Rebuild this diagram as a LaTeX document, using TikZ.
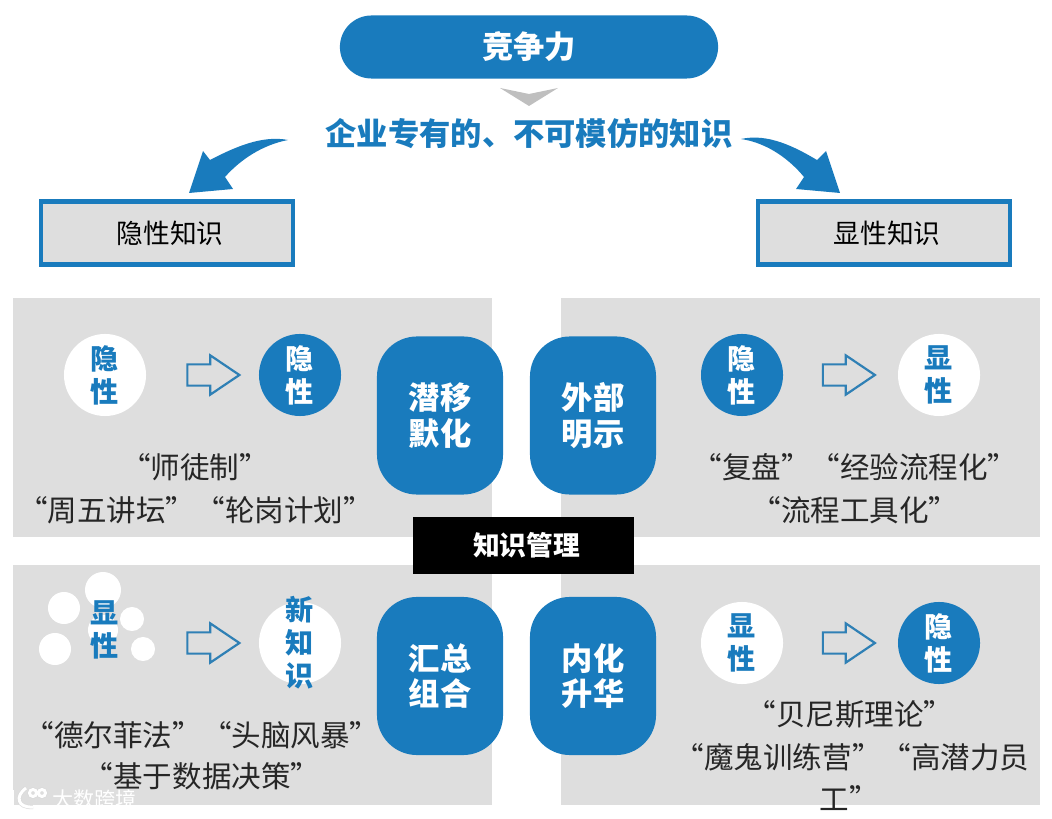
\documentclass[tikz,border=0pt]{standalone}
\usepackage{fontspec}
\setmainfont{Noto Sans CJK SC}
\usetikzlibrary{shapes.arrows}
\definecolor{kblue}{HTML}{197BBD}
\definecolor{kline}{HTML}{2F80B5}
\definecolor{kgrey}{HTML}{DEDEDE}
\begin{document}
\begin{tikzpicture}[x=0.01cm,y=-0.01cm]
                \tikzstyle{panel}=[fill=kgrey,draw=none,minimum width=4.79cm,minimum height=2.39cm,inner sep=0pt]
                \tikzstyle{bigbox}=[fill=kblue,text=white,rounded corners=0.4cm,minimum width=1.26cm,minimum height=1.58cm,inner sep=0pt,align=center,font=\fontsize{8.9}{10.2}\selectfont\bfseries]
                \tikzstyle{kind}=[fill=kgrey,draw=kblue,line width=0.045cm,minimum width=2.52cm,minimum height=0.63cm,inner sep=0pt,font=\fontsize{7.6}{9}\selectfont]
                \tikzstyle{blob}=[circle,minimum size=0.82cm,inner sep=0pt,align=center,font=\fontsize{8}{9.4}\selectfont\bfseries]
                \tikzstyle{whiteblob}=[blob,fill=white,text=kblue]
                \tikzstyle{blueblob}=[blob,fill=kblue,text=white]
                \tikzstyle{puff}=[circle,fill=white,inner sep=0pt]
                \tikzstyle{hollow}=[single arrow,draw=kline,fill=kgrey,line width=0.022cm,text height=0.19cm,text depth=0pt,text width=0pt,minimum height=0.52cm,single arrow head extend=0.09cm,single arrow tip angle=68,inner sep=0pt]
                \tikzstyle{say}=[font=\fontsize{8.4}{9.5}\selectfont,text=black!85,inner sep=0pt]
                \tikzstyle{logo}=[draw=black!15,double=white,double distance=0.03cm,line width=0.006cm]
                \path[use as bounding box] (0,0) rectangle (1052,819);

                % top of the picture
                \node[fill=kblue,text=white,rounded corners=0.315cm,minimum width=3.78cm,minimum height=0.63cm,inner sep=0pt,font=\fontsize{8.9}{10}\selectfont\bfseries] (V-top) at (529,47){竞争力};
                \node[text=kblue,inner sep=0pt,font=\fontsize{8.9}{10}\selectfont\bfseries] (V-sub) at (529,134){企业专有的、不可模仿的知识};
                \fill[black!25] (500,88) -- (529,94) -- (558,88) -- (529,106) -- cycle;
                \node[kind] (V-tacit) at (167,233){\hspace{0.06cm}隐性知识};
                \node[kind] (V-plain) at (884,233){\hspace{0.06cm}显性知识};
                \fill[kblue] (288,140) .. controls (262,135) and (235,147) .. (210,160) -- (203,151) -- (189,193) -- (233,189) -- (225,177) .. controls (240,160) and (262,145) .. (288,140) -- cycle;
                \fill[kblue] (741,139) .. controls (768,133) and (795,147) .. (817,160) -- (826,151) -- (840,193) -- (796,189) -- (804,177) .. controls (790,160) and (768,143) .. (741,139) -- cycle;

                % four panels
                \foreach \name/\x/\y in {a/252.5/417.5, b/800.5/417.5, c/252.5/685, d/800.5/685}
                    \node[panel] (P-\name) at (\x,\y){};
                \foreach \name/\x/\y/\label in {a/440/415.5/潜移\\默化, b/593/415.5/外部\\明示, c/440/676/汇总\\组合, d/593/676/内化\\升华}
                    \node[bigbox] (B-\name) at (\x,\y){\label};
                \node[fill=black,text=white,minimum width=2.21cm,minimum height=0.57cm,inner sep=0pt,font=\fontsize{7.6}{9}\selectfont\bfseries] (V-mid) at (523.5,545.5){\hspace{0.06cm}知识管理};

                % circles and their arrows
                \node[whiteblob] (C-a1) at (105,375){隐\\性};
                \node[blueblob] (C-a2) at (300,375){隐\\性};
                \node[blueblob] (C-b1) at (742,375){隐\\性};
                \node[whiteblob] (C-b2) at (939,375){显\\性};
                \foreach \x/\y/\size in {103/590/0.36cm, 64/608/0.32cm, 55/649/0.32cm, 132/619/0.24cm, 143/649/0.24cm, 103/630/0.3cm}
                    \node[puff,minimum size=\size] at (\x,\y){};
                \node[blob,text=kblue] (C-c1) at (105,630){显\\性};
                \node[puff,minimum size=0.82cm] (C-c0) at (300,643){};
                \node[blob,text=kblue] (C-c2) at (300,643){新\\知\\识};
                \node[whiteblob] (C-d1) at (742,643){显\\性};
                \node[blueblob] (C-d2) at (939,643){隐\\性};
                \foreach \x/\y in {205.5/375, 841/375, 205.5/643, 841/643}
                    \node[hollow] at (\x,\y){};

                % quoted lines
                \node[say] (T-a1) at (195,467){“师徒制”};
                \node[say] (T-a2) at (195.5,510){“周五讲坛”“轮岗计划”};
                \node[say] (T-b1) at (855,467){“复盘”“经验流程化”};
                \node[say] (T-b2) at (855,510){“流程工具化”};
                \node[say] (T-c1) at (202,735){“德尔菲法”“头脑风暴”};
                \node[say] (T-c2) at (202,776){“基于数据决策”};
                \node[say] (T-d1) at (850,714){“贝尼斯理论”};
                \node[say] (T-d2) at (852,757){“魔鬼训练营”“高潜力员};
                \node[say] (T-d3) at (849.5,798){工”};

                % faint mark in the corner
                \draw[logo] (12,790) -- (12,808);
                \draw[logo] (26,788) .. controls (15,796) and (17,808) .. (33,807);
                \draw[logo] (33,793) circle (3.5) (42,793) circle (3.5);
                \node[text=white,font=\fontsize{6}{7}\selectfont,inner sep=0pt] (V-mark) at (94.5,799){大数跨境};
\end{tikzpicture}
\end{document}
